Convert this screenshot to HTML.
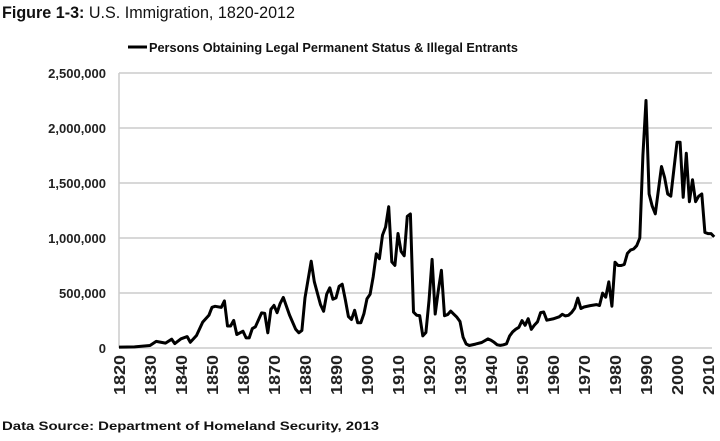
<!DOCTYPE html>
<html><head><meta charset="utf-8"><style>
body{margin:0;background:#fff;}
svg{display:block;font-family:"Liberation Sans",Arial,sans-serif;}
</style></head><body>
<svg id="c" width="720" height="441">
<text x="2" y="18" font-size="17" fill="#111" textLength="293" lengthAdjust="spacingAndGlyphs"><tspan font-weight="bold">Figure 1-3:</tspan> U.S. Immigration, 1820-2012</text>
<g>
<line x1="128" y1="47" x2="147" y2="47" stroke="#000" stroke-width="3"/>
<text x="149" y="52" font-size="13" font-weight="bold" fill="#111" textLength="369" lengthAdjust="spacingAndGlyphs">Persons Obtaining Legal Permanent Status &amp; Illegal Entrants</text>
</g>
<g id="grid"></g>
<g id="yax"></g>
<g id="xax"></g>
<path id="line" fill="none" stroke="#000" stroke-width="3" stroke-linejoin="round"/>
<text x="2" y="430" font-size="12" font-weight="bold" fill="#111" textLength="377" lengthAdjust="spacingAndGlyphs">Data Source: Department of Homeland Security, 2013</text>
</svg>
<script>
const years=[1820,1825,1830,1832,1835,1837,1838,1840,1842,1843,1845,1847,1849,1850,1851,1853,1854,1855,1856,1857,1858,1860,1861,1862,1863,1864,1866,1867,1868,1869,1870,1871,1872,1873,1875,1877,1878,1879,1880,1882,1883,1885,1886,1887,1888,1889,1890,1891,1892,1893,1894,1895,1896,1897,1898,1899,1900,1901,1902,1903,1904,1905,1906,1907,1908,1909,1910,1911,1912,1913,1914,1915,1916,1917,1918,1919,1920,1921,1922,1923,1924,1925,1926,1927,1928,1929,1930,1931,1932,1933,1935,1937,1939,1940,1941,1942,1943,1944,1945,1946,1947,1948,1949,1950,1951,1952,1953,1954,1955,1956,1957,1958,1960,1962,1963,1964,1965,1966,1967,1968,1969,1970,1972,1974,1975,1976,1977,1978,1979,1980,1981,1982,1983,1984,1985,1986,1987,1988,1989,1990,1991,1992,1993,1995,1996,1997,1998,2000,2001,2002,2003,2004,2005,2006,2007,2008,2009,2010,2011,2012];
const values=[8000,10000,23000,60000,45000,80000,40000,84000,104000,52000,114000,235000,297000,370000,379000,369000,428000,200000,200000,251000,123000,153000,92000,92000,176000,193000,319000,315000,138000,352000,387000,321000,405000,460000,300000,170000,138000,160000,457000,789000,603000,395000,334000,490000,547000,444000,455000,560000,580000,440000,286000,259000,343000,230000,229000,311000,448000,488000,648000,857000,812000,1026000,1100000,1285000,783000,751000,1041000,878000,838000,1197000,1218000,326000,298000,295000,110000,141000,430000,805000,309000,522000,706000,294000,304000,335000,307000,280000,241000,97000,36000,23000,35000,50000,83000,70000,52000,29000,24000,29000,38000,109000,147000,171000,188000,249000,206000,266000,170000,208000,238000,322000,327000,253000,265000,284000,306000,292000,297000,323000,362000,454000,359000,373000,385000,395000,386000,499000,462000,601000,380000,780000,750000,750000,760000,860000,890000,900000,930000,1000000,1750000,2250000,1400000,1290000,1220000,1650000,1550000,1400000,1380000,1870000,1870000,1370000,1770000,1330000,1530000,1330000,1380000,1400000,1050000,1040000,1040000,1010000];
const yTicks=[0,500000,1000000,1500000,2000000,2500000];
const yTickLabels=["0","500,000","1,000,000","1,500,000","2,000,000","2,500,000"];
const xTicks=[1820,1830,1840,1850,1860,1870,1880,1890,1900,1910,1920,1930,1940,1950,1960,1970,1980,1990,2000,2010];
const NS="http://www.w3.org/2000/svg";
const x=y=>119+(y-1820)*3.1;
const yv=v=>348-v/2500000*275;
const grid=document.getElementById('grid'),yax=document.getElementById('yax'),xax=document.getElementById('xax');
yTicks.forEach((t,i)=>{
 const l=document.createElementNS(NS,'line');
 
 
 l.setAttribute('x1',119);l.setAttribute('x2',712);l.setAttribute('y1',yv(t));l.setAttribute('y2',yv(t));
 l.setAttribute('stroke','#ccc');l.setAttribute('stroke-width','1.5');grid.appendChild(l);
 const tx=document.createElementNS(NS,'text');
 
 
 tx.setAttribute('x',106);tx.setAttribute('y',yv(t)+5);tx.setAttribute('text-anchor','end');
 tx.setAttribute('font-size','13');tx.setAttribute('font-weight','bold');tx.setAttribute('fill','#222');
 tx.textContent=yTickLabels[i];yax.appendChild(tx);
});
const ax=document.createElementNS(NS,'line');


ax.setAttribute('x1',119);ax.setAttribute('x2',119);ax.setAttribute('y1',73);ax.setAttribute('y2',348);
ax.setAttribute('stroke','#ccc');ax.setAttribute('stroke-width','1.5');yax.appendChild(ax);
xTicks.forEach(t=>{
 const tx=document.createElementNS(NS,'text');
 
 
 tx.setAttribute('transform',`translate(${x(t)+6},355) rotate(-90)`);
 tx.setAttribute('text-anchor','end');tx.setAttribute('font-size','16');tx.setAttribute('font-weight','bold');tx.setAttribute('fill','#222');
 tx.setAttribute('textLength','40');tx.setAttribute('lengthAdjust','spacingAndGlyphs');
 tx.textContent=t;xax.appendChild(tx);
});
document.getElementById('line').setAttribute('d',years.map((yr,i)=>(i?'L':'M')+x(yr).toFixed(1)+','+yv(values[i]).toFixed(1)).join(''));
</script>
</body></html>
